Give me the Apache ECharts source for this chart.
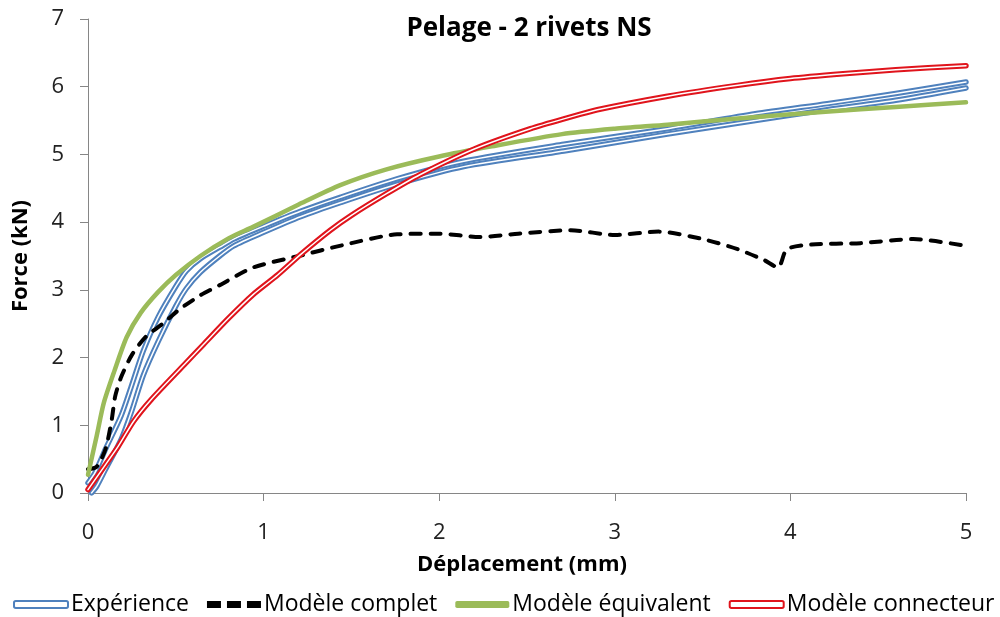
<!DOCTYPE html>
<html><head><meta charset="utf-8">
<script src="https://cdn.jsdelivr.net/npm/echarts@6/dist/echarts.min.js"></script>
<style>html,body{margin:0;padding:0;background:#fff}#c{width:1000px;height:617px}</style>
</head><body><div id="c"></div>
<script>
const chartTitle = 'Pelage - 2 rivets NS';
const xName = 'Déplacement (mm)';
const yName = 'Force (kN)';
const seriesNames = ['Expérience', 'Modèle complet', 'Modèle équivalent', 'Modèle connecteur'];

// Expérience (two test curves)
const expAX = [0,0.04,0.1,0.19,0.25,0.315,0.4,0.5,0.56,0.64,0.75,0.83,1.0,1.21,1.44,1.76,2.14,2.71,3.3,3.8,4.21,4.6,5.0];
const expAY = [0.15,0.3,0.65,1.15,1.6,2.1,2.6,3.05,3.28,3.46,3.63,3.75,3.94,4.16,4.37,4.64,4.9,5.15,5.38,5.6,5.75,5.9,6.07];
const expBX = [0.02,0.05,0.1,0.19,0.25,0.315,0.4,0.5,0.56,0.64,0.75,0.83,1.0,1.21,1.44,1.76,2.14,2.71,3.3,3.8,4.21,4.6,5.0];
const expBY = [0,0.1,0.35,0.8,1.22,1.74,2.24,2.76,3.02,3.26,3.5,3.65,3.85,4.08,4.29,4.56,4.82,5.05,5.3,5.5,5.66,5.8,5.98];

// Modèle complet
const compX = [0,0.05,0.1,0.135,0.155,0.19,0.25,0.33,0.43,0.52,0.64,0.75,0.94,1.2,1.45,1.76,2.0,2.23,2.45,2.75,3.0,3.25,3.5,3.7,3.85,3.93,3.98,4.12,4.4,4.7,5.0];
const compY = [0.35,0.39,0.65,1.08,1.43,1.72,2.04,2.31,2.51,2.71,2.92,3.07,3.33,3.5,3.66,3.82,3.83,3.78,3.83,3.88,3.81,3.86,3.75,3.6,3.44,3.33,3.6,3.67,3.69,3.75,3.65];

// Modèle équivalent
const equivX = [0,0.05,0.09,0.15,0.22,0.3,0.4,0.5,0.64,0.8,0.94,1.2,1.44,1.7,2.0,2.3,2.7,3.0,3.3,3.7,4.2,4.6,5.0];
const equivY = [0.27,0.85,1.33,1.8,2.3,2.66,2.97,3.22,3.5,3.76,3.93,4.26,4.55,4.78,4.97,5.12,5.3,5.38,5.44,5.53,5.63,5.7,5.77];

// Modèle connecteur
const connX = [0,0.1,0.17,0.26,0.36,0.55,0.66,0.8,0.94,1.08,1.21,1.38,1.5,1.7,1.89,2.2,2.52,2.73,2.9,3.3,3.7,4.0,4.3,4.6,5.0];
const connY = [0.05,0.42,0.68,1.06,1.38,1.9,2.2,2.58,2.93,3.22,3.52,3.88,4.1,4.42,4.7,5.08,5.38,5.54,5.66,5.86,6.02,6.12,6.19,6.25,6.31];

const pairs = (xs, ys) => xs.map((x, i) => [x, ys[i]]);

const FONT = 'Open Sans';
const BLUE = '#4f81bd', RED = '#e0141c', GREEN = '#9bbb59';

function line(name, xs, ys, color, width, z, extra) {
  return Object.assign({
    name, type: 'line', data: pairs(xs, ys), symbol: 'none', showSymbol: false,
    smooth: 0.25, z, silent: true,
    lineStyle: { color, width, cap: 'round', join: 'round' }
  }, extra || {});
}

const chart = echarts.init(document.getElementById('c'), null, { renderer: 'canvas' });
chart.setOption({
  animation: false,
  backgroundColor: '#fff',
  title: {
    text: chartTitle, left: 524, top: 11, textAlign: 'center',
    textStyle: { fontFamily: FONT, fontSize: 26, fontWeight: 'bold', color: '#000' }
  },
  grid: { left: 88, right: 34, top: 19, bottom: 124, outerBoundsMode: 'none' },
  xAxis: {
    type: 'value', min: 0, max: 5, interval: 1,
    name: xName, nameLocation: 'middle', nameGap: 61,
    nameTextStyle: { fontFamily: FONT, fontSize: 22, fontWeight: 'bold', color: '#000', padding: [0, 10, 0, 0] },
    axisLine: { lineStyle: { color: '#868686', width: 1 } },
    axisTick: { show: true, length: 8, lineStyle: { color: '#868686' } },
    axisLabel: { fontFamily: FONT, fontSize: 22, color: '#222', margin: 29 },
    splitLine: { show: false }
  },
  yAxis: {
    type: 'value', min: 0, max: 7, interval: 1,
    name: yName, nameLocation: 'middle', nameGap: 56, nameRotate: 90,
    nameTextStyle: { fontFamily: FONT, fontSize: 22, fontWeight: 'bold', color: '#000' },
    axisLine: { show: true, lineStyle: { color: '#868686', width: 1 } },
    axisTick: { show: true, length: 8, lineStyle: { color: '#868686' } },
    axisLabel: { fontFamily: FONT, fontSize: 22, color: '#222', margin: 24 },
    splitLine: { show: false }
  },
  legend: {
    bottom: -4, left: 8, itemWidth: 54, itemHeight: 7, itemGap: 18,
    textStyle: { fontFamily: FONT, fontSize: 23, color: '#000', padding: [0, 0, 0, -2] },
    selectedMode: false,
    data: [
      { name: seriesNames[0], icon: 'roundRect', itemStyle: { color: '#fff', borderColor: BLUE, borderWidth: 2 } },
      { name: seriesNames[1], icon: 'path://M0,0h14v7h-14z M20,0h14v7h-14z M40,0h14v7h-14z', itemStyle: { color: '#000' } },
      { name: seriesNames[2], icon: 'roundRect', itemStyle: { color: GREEN } },
      { name: seriesNames[3], icon: 'roundRect', itemStyle: { color: '#fff', borderColor: RED, borderWidth: 2 } }
    ]
  },
  series: [
    line(seriesNames[0], expAX, expAY, BLUE, 5.5, 2),
    line('expB', expBX, expBY, BLUE, 5.5, 2),
    line('expAw', expAX, expAY, '#fff', 1.5, 3),
    line('expBw', expBX, expBY, '#fff', 1.5, 3),
    line(seriesNames[1], compX, compY, '#000', 4, 4, { lineStyle: { color: '#000', width: 4, type: [10, 10], cap: 'round', join: 'round' } }),
    line(seriesNames[2], equivX, equivY, GREEN, 4.5, 5),
    line(seriesNames[3], connX, connY, RED, 5.5, 6),
    line('connW', connX, connY, '#fff', 1.5, 7)
  ]
});
</script>
</body></html>
